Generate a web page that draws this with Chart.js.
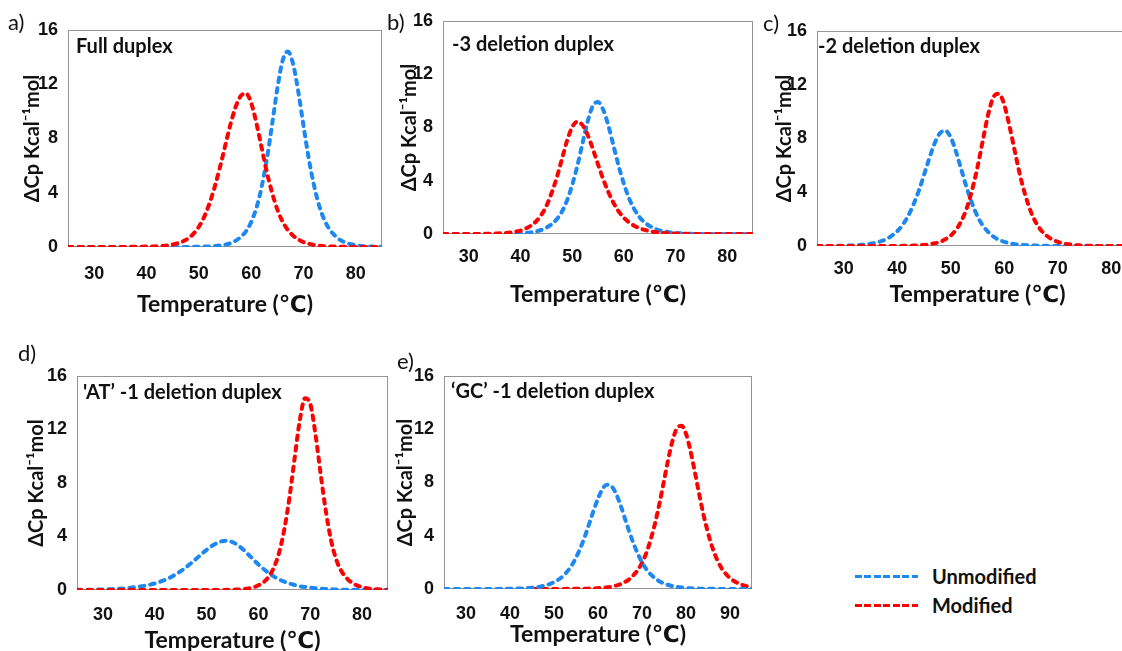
<!DOCTYPE html>
<html>
<head>
<meta charset="utf-8">
<title>DSC melting profiles</title>
<script src="https://cdn.jsdelivr.net/npm/chart.js@4.4.0/dist/chart.umd.min.js"></script>
<style>
  html, body { margin: 0; padding: 0; background: #fff; overflow: hidden; }
  body { position: relative; width: 1122px; height: 651px; font-family: Lato, "Open Sans", sans-serif; color: #111; }
  canvas.panel { position: absolute; }
  .tag { position: absolute; font-size: 22px; line-height: 1; }
  .dash { position: absolute; height: 3px; width: 63px; }
  .dash.blue { background: repeating-linear-gradient(90deg, #1e88f0 0 7px, transparent 7px 9.5px); }
  .dash.red { background: repeating-linear-gradient(90deg, #ff0000 0 7px, transparent 7px 9.5px); }
  .key { position: absolute; font-weight: bold; font-size: 20px; line-height: 1; }
</style>
</head>
<body>
<canvas id="chartA" class="panel"></canvas>
<canvas id="chartB" class="panel"></canvas>
<canvas id="chartC" class="panel"></canvas>
<canvas id="chartD" class="panel"></canvas>
<canvas id="chartE" class="panel"></canvas>

<div class="tag" style="left:8px;top:11px">a)</div>
<div class="tag" style="left:387px;top:11px">b)</div>
<div class="tag" style="left:763px;top:12px">c)</div>
<div class="tag" style="left:18px;top:342px">d)</div>
<div class="tag" style="left:397px;top:350px">e)</div>

<span class="dash blue" style="left:855px;top:575px"></span>
<div class="key" style="left:932px;top:566px">Unmodified</div>
<span class="dash red" style="left:855px;top:604px"></span>
<div class="key" style="left:932px;top:595px">Modified</div>

<script>
// temperature grids (°C)
const tempsAD = [25,26,27,28,29,30,31,32,33,34,35,36,37,38,39,40,41,42,43,44,45,46,47,48,49,50,
  51,52,53,54,55,56,57,58,59,60,61,62,63,64,65,66,67,68,69,70,71,72,73,74,75,76,77,78,79,80,
  81,82,83,84,85];
const tempsE = [25,26,27,28,29,30,31,32,33,34,35,36,37,38,39,40,41,42,43,44,45,46,47,48,49,50,
  51,52,53,54,55,56,57,58,59,60,61,62,63,64,65,66,67,68,69,70,71,72,73,74,75,76,77,78,79,80,
  81,82,83,84,85,86,87,88,89,90,91,92,93,94,95];
const tempsEMod = [45,46,47,48,49,50,51,52,53,54,55,56,57,58,59,60,61,62,63,64,65,66,67,68,69,70,
  71,72,73,74,75,76,77,78,79,80,81,82,83,84,85,86,87,88,89,90,91,92,93,94,95];

const xTicksAD = [30, 40, 50, 60, 70, 80];
const xTicksE = [30, 40, 50, 60, 70, 80, 90];
const yTicks = [0, 4, 8, 12, 16];

// ΔCp (kcal/mol) — full duplex
const fullUnmod = [0,0,0,0,0,0,0,0,0,0,0,0,0,0,0,0,0,0,0,0,0,0,0,0,
  0.01,0.02,0.03,0.04,0.07,0.11,0.17,0.27,0.45,0.74,
  1.15,1.83,2.88,4.43,6.5,9.04,11.68,13.73,14.41,13.51,
  11.46,8.94,6.53,4.56,3.04,1.99,1.28,0.84,0.52,0.33,
  0.21,0.13,0.08,0.05,0.03,0.02,0.01];
const fullMod = [0,0,0,0,0,0,0,0,0,0,0,0,
  0.01,0.01,0.02,0.03,0.04,0.05,0.08,0.12,0.18,0.28,
  0.42,0.64,0.99,1.49,2.2,3.17,4.39,5.83,7.41,8.97,
  10.29,11.13,11.33,10.62,9.14,7.32,5.52,4.0,2.77,1.88,
  1.26,0.84,0.56,0.36,0.24,0.15,0.1,0.06,0.04,0.03,
  0.02,0.01,0,0,0,0,0,0,0];

// -3 deletion duplex
const del3Unmod = [0,0,0,0,0,0,0,0,0,0,0,0,
  0.01,0.02,0.03,0.05,0.08,0.12,0.19,0.3,0.47,0.72,
  1.1,1.67,2.51,3.68,5.12,6.81,8.45,9.62,9.91,9.34,
  8.15,6.63,5.11,3.78,2.69,1.88,1.29,0.87,0.6,0.4,
  0.26,0.18,0.12,0.08,0.05,0.03,0.02,0.01,
  0,0,0,0,0,0,0,0,0,0,0];
const del3Mod = [0,0,0,0,0,0,0,0,
  0.01,0.02,0.03,0.05,0.07,0.11,0.17,0.26,0.41,0.62,
  0.94,1.42,2.09,3.06,4.22,5.61,6.99,8.03,8.44,8.18,
  7.44,6.39,5.23,4.12,3.16,2.34,1.7,1.22,0.88,0.62,
  0.44,0.31,0.22,0.15,0.1,0.07,0.05,0.03,0.02,0.01,
  0,0,0,0,0,0,0,0,0,0,0,0,0];

// -2 deletion duplex
const del2Unmod = [0,0,0,0,
  0.01,0.02,0.03,0.05,0.08,0.11,0.17,0.25,0.36,0.52,
  0.77,1.1,1.57,2.21,3.06,4.08,5.28,6.53,7.65,8.4,
  8.58,8.08,6.99,5.65,4.3,3.16,2.21,1.52,1.04,0.69,
  0.46,0.31,0.21,0.14,0.09,0.06,0.04,0.03,0.02,0.01,
  0,0,0,0,0,0,0,0,0,0,0,0,0,0,0,0,0];
const del2Mod = [0,0,0,0,0,0,0,0,0,0,0,0,0,0,0,0,
  0.01,0.02,0.03,0.05,0.08,0.13,0.2,0.31,0.5,0.77,
  1.22,1.87,2.82,4.19,5.88,7.87,9.8,11.09,11.33,10.5,
  8.88,7.0,5.18,3.7,2.52,1.69,1.12,0.74,0.48,0.31,
  0.2,0.13,0.08,0.05,0.03,0.02,0.01,
  0,0,0,0,0,0,0,0];

// 'AT' -1 deletion duplex
const atUnmod = [0.01,0.01,0.02,0.02,0.03,0.04,0.06,0.07,0.1,0.12,
  0.15,0.2,0.25,0.31,0.39,0.49,0.61,0.76,0.94,1.16,
  1.41,1.69,2.0,2.33,2.68,3.0,3.29,3.51,3.65,3.68,
  3.58,3.36,3.05,2.68,2.29,1.91,1.57,1.27,1.0,0.79,
  0.62,0.48,0.37,0.28,0.22,0.17,0.13,0.1,0.07,0.05,
  0.04,0.03,0.02,0.02,0.01,0.01,0.01,0,0,0,0];
const atMod = [0,0,0,0,0,0,0,0,0,0,0,0,0,0,0,0,0,0,0,0,0,0,0,0,0,0,0,0,0,
  0.01,0.02,0.04,0.06,0.11,0.19,0.35,0.58,1.01,1.69,
  2.81,4.55,6.94,9.9,12.73,14.33,13.91,11.66,8.69,5.92,
  3.75,2.29,1.42,0.9,0.56,0.35,0.22,0.13,0.08,0.05,
  0.03,0.02];

// 'GC' -1 deletion duplex
const gcUnmod = [0,0,0,0,0,0,0,0,0,0,0,0,0,
  0.01,0.01,0.02,0.03,0.04,0.05,0.07,0.1,0.14,0.19,
  0.27,0.37,0.51,0.7,0.96,1.31,1.76,2.35,3.08,3.93,
  4.9,5.89,6.8,7.5,7.84,7.74,7.23,6.41,5.42,4.41,
  3.48,2.69,2.0,1.48,1.09,0.79,0.57,0.42,0.3,0.21,
  0.15,0.11,0.08,0.05,0.04,0.03,0.02,0.01,0.01,0.01,
  0,0,0,0,0,0,0,0];
const gcMod = [0,0,0,0,0,0,0,0,
  0.01,0.01,0.01,0.02,0.02,0.03,0.04,0.06,0.08,0.12,
  0.17,0.25,0.34,0.5,0.71,1.01,1.41,1.97,2.73,3.75,
  4.99,6.47,8.13,9.8,11.22,12.1,12.26,11.66,10.41,8.81,
  7.12,5.55,4.23,3.1,2.25,1.61,1.16,0.81,0.58,0.41,
  0.28,0.2,0.14];

const BLUE = '#1e88f0';
const RED = '#ff0000';
const FONT = 'Lato, "Open Sans", "DejaVu Sans", sans-serif';
const TICK_FONT = { family: '"Liberation Sans", Arial, sans-serif', weight: 'bold', size: 18 };

const panels = [
  { id: 'chartA', box: { l: 68, t: 30, r: 382, b: 247 }, caption: 'Full duplex',
    unmodT: tempsAD, unmod: fullUnmod, modT: tempsAD, mod: fullMod, xMax: 85, xTicks: xTicksAD,
    redOnTop: true, pad: { xTick: 16, xTitle: 3, yTitle: 25 }, cap: { dx: 8, dy: 17 } },
  { id: 'chartB', box: { l: 443, t: 21, r: 753, b: 234 }, caption: '-3 deletion duplex',
    unmodT: tempsAD, unmod: del3Unmod, modT: tempsAD, mod: del3Mod, xMax: 85, xTicks: xTicksAD,
    redOnTop: true, pad: { xTick: 12, xTitle: 0, yTitle: 27 }, cap: { dx: 9, dy: 24 } },
  { id: 'chartC', box: { l: 817, t: 31, r: 1138, b: 246 }, caption: '-2 deletion duplex',
    unmodT: tempsAD, unmod: del2Unmod, modT: tempsAD, mod: del2Mod, xMax: 85, xTicks: xTicksAD,
    redOnTop: true, pad: { xTick: 12, xTitle: 12, yTitle: 28 }, cap: { dx: 1, dy: 16 } },
  { id: 'chartD', box: { l: 77, t: 376, r: 388, b: 590 }, caption: '\'AT\u2019 -1 deletion duplex',
    unmodT: tempsAD, unmod: atUnmod, modT: tempsAD, mod: atMod, xMax: 85, xTicks: xTicksAD,
    redOnTop: true, pad: { xTick: 14, xTitle: 10, yTitle: 20 }, cap: { dx: 6, dy: 17 } },
  { id: 'chartE', box: { l: 444, t: 376, r: 752, b: 589 }, caption: '\u2018GC\u2019 -1 deletion duplex',
    unmodT: tempsE, unmod: gcUnmod, modT: tempsEMod, mod: gcMod, xMax: 95, xTicks: xTicksE,
    redOnTop: false, pad: { xTick: 14, xTitle: 15, yTitle: 22 }, cap: { dx: 7, dy: 16 } }
];

// plot frame + caption inside the top-left corner
const framePlugin = {
  id: 'frame',
  beforeDatasetsDraw(chart) {
    const { left, top, right, bottom } = chart.chartArea;
    const ctx = chart.ctx;
    ctx.save();
    ctx.strokeStyle = '#949494';
    ctx.lineWidth = 1;
    ctx.strokeRect(left + 0.5, top + 0.5, right - left - 1, bottom - top - 1);
    ctx.restore();
  },
  afterDatasetsDraw(chart, args, opts) {
    const { left, top } = chart.chartArea;
    const ctx = chart.ctx;
    ctx.save();
    ctx.font = 'bold 20px ' + FONT;
    ctx.fillStyle = '#111';
    ctx.textBaseline = 'middle';
    ctx.fillText(opts.text, left + opts.dx, top + opts.dy);
    ctx.restore();
  }
};

function toPoints(xs, ys) {
  return xs.map((x, i) => ({ x: x, y: ys[i] }));
}

function curve(label, color, xs, ys) {
  return {
    label: label,
    data: toPoints(xs, ys),
    borderColor: color,
    borderWidth: 4,
    borderDash: [4.5, 6],
    borderCapStyle: 'round',
    pointRadius: 0,
    fill: false,
    cubicInterpolationMode: 'monotone'
  };
}

function drawPanel(p) {
  const axisW = 72, axisH = 74, padTop = 12, padRight = 4;
  const w = p.box.r - p.box.l + axisW + padRight;
  const h = p.box.b - p.box.t + padTop + axisH;
  const canvas = document.getElementById(p.id);
  canvas.width = w;
  canvas.height = h;
  canvas.style.width = w + 'px';
  canvas.style.height = h + 'px';
  canvas.style.left = (p.box.l - axisW) + 'px';
  canvas.style.top = (p.box.t - padTop) + 'px';

  const blue = curve('Unmodified', BLUE, p.unmodT, p.unmod);
  const red = curve('Modified', RED, p.modT, p.mod);
  // first dataset is painted last, so it ends up on top
  const datasets = p.redOnTop ? [red, blue] : [blue, red];

  new Chart(canvas.getContext('2d'), {
    type: 'line',
    data: { datasets: datasets },
    plugins: [framePlugin],
    options: {
      responsive: false,
      animation: false,
      events: [],
      layout: { padding: { top: padTop, right: padRight, left: 0, bottom: 0 } },
      plugins: {
        legend: { display: false },
        tooltip: { enabled: false },
        frame: { text: p.caption, dx: p.cap.dx, dy: p.cap.dy }
      },
      scales: {
        x: {
          type: 'linear',
          min: 25,
          max: p.xMax,
          afterBuildTicks: s => { s.ticks = p.xTicks.map(v => ({ value: v })); },
          afterFit: s => { s.height = axisH; s.paddingLeft = 0; s.paddingRight = 0; },
          grid: { display: false, drawTicks: false },
          border: { display: false },
          ticks: { maxRotation: 0, autoSkip: false, padding: p.pad.xTick, color: '#111', font: TICK_FONT },
          title: {
            display: true,
            text: 'Temperature (\u2103)',
            color: '#111',
            font: { family: FONT, weight: 'bold', size: 23, lineHeight: 1.2 },
            padding: { top: 0, bottom: p.pad.xTitle }
          }
        },
        y: {
          min: 0,
          max: 16,
          afterBuildTicks: s => { s.ticks = yTicks.map(v => ({ value: v })); },
          afterFit: s => { s.width = axisW; s.paddingTop = 0; s.paddingBottom = 0; },
          grid: { display: false, drawTicks: false },
          border: { display: false },
          ticks: { padding: 10, color: '#111', font: TICK_FONT },
          title: {
            display: true,
            text: '\u0394Cp Kcal\u207B\u00B9mol',
            color: '#111',
            font: { family: FONT, weight: 'bold', size: 20, lineHeight: 1.2 },
            padding: { top: p.pad.yTitle, bottom: 0 }
          }
        }
      }
    }
  });
}

panels.forEach(drawPanel);
</script>
</body>
</html>
